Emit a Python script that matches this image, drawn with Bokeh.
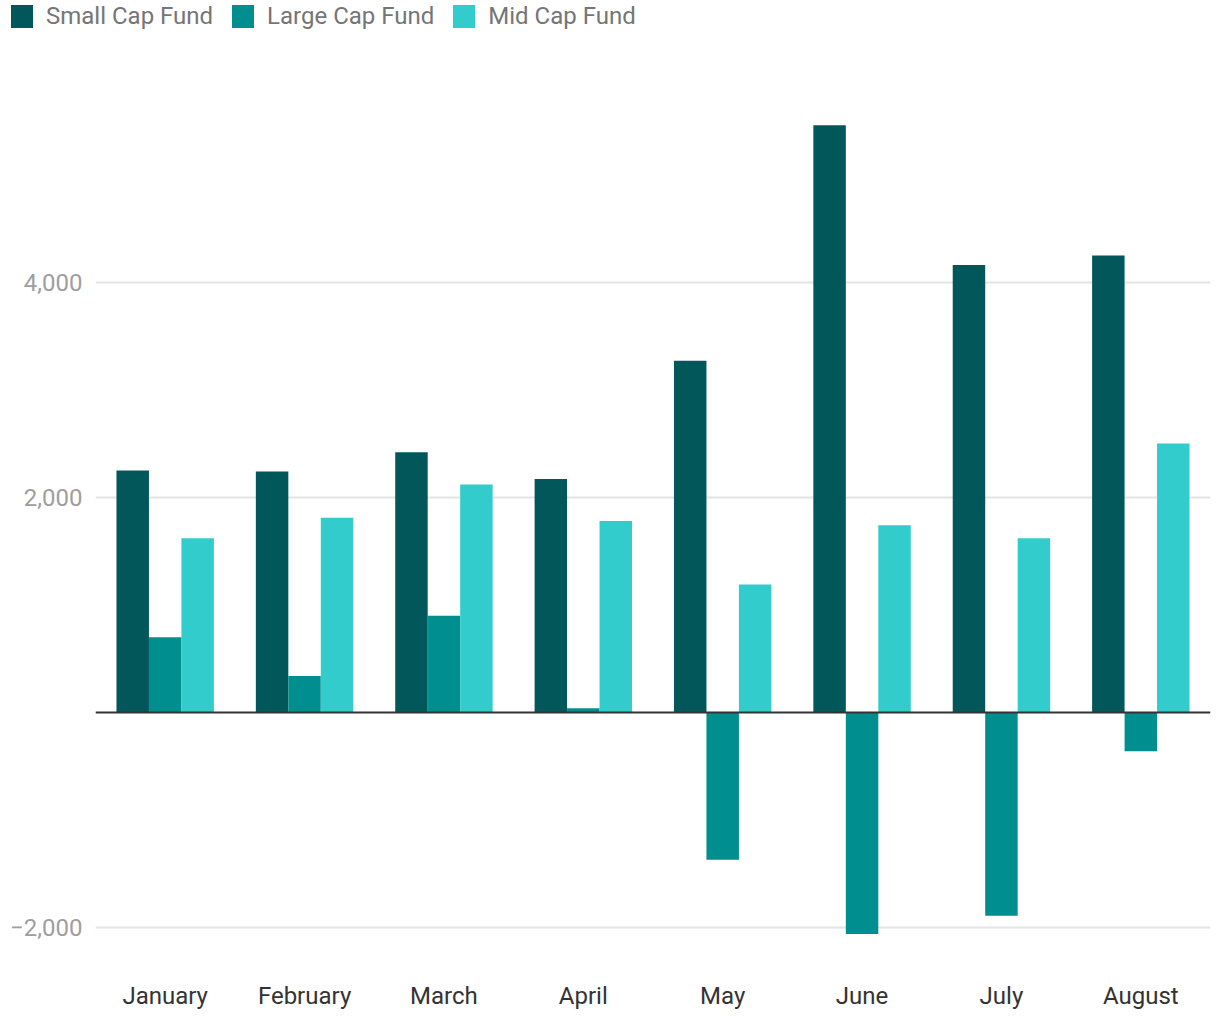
from bokeh.plotting import figure
from bokeh.layouts import column
from bokeh.models import ColumnDataSource, FactorRange, Range1d, FixedTicker, Span, Div
from bokeh.transform import dodge
from bokeh.embed import file_html
from bokeh.resources import INLINE

months = ["January", "February", "March", "April", "May", "June", "July", "August"]
small_cap = [2250, 2240, 2420, 2170, 3270, 5460, 4160, 4250]
large_cap = [700, 340, 900, 40, -1370, -2060, -1890, -360]
mid_cap = [1620, 1810, 2120, 1780, 1190, 1740, 1620, 2500]
series_names = ["Small Cap Fund", "Large Cap Fund", "Mid Cap Fund"]
colors = ["#02575a", "#008e8e", "#33cccc"]
y_ticks = [-2000, 2000, 4000]
y_tick_labels = {-2000: "\u22122,000", 2000: "2,000", 4000: "4,000"}

source = ColumnDataSource(dict(month=months, small=small_cap, large=large_cap, mid=mid_cap))

# ---- main chart ----
p = figure(width=1212, height=960, x_range=FactorRange(*months), y_range=Range1d(-2390, 6062),
           output_backend="svg", toolbar_location=None,
           min_border_left=95, min_border_right=2, min_border_top=8, min_border_bottom=42)

bw = 0.233
for col, off, c in zip(["small", "large", "mid"], [-bw, 0, bw], colors):
    p.vbar(x=dodge("month", off, range=p.x_range), top=col, width=bw, source=source,
           fill_color=c, line_color=None)

p.add_layout(Span(location=0, dimension="width", line_color="#333333", line_width=2))

p.outline_line_color = None
p.xgrid.grid_line_color = None
p.ygrid.grid_line_color = "#e4e4e4"
p.ygrid.grid_line_width = 2
p.yaxis.ticker = FixedTicker(ticks=y_ticks)
p.yaxis.major_label_overrides = y_tick_labels
for ax in (p.xaxis, p.yaxis):
    ax.axis_line_color = None
    ax.major_tick_line_color = None
    ax.minor_tick_line_color = None
    ax.major_tick_in = 0
    ax.major_tick_out = 0
    ax.major_label_text_font = "Roboto"
    ax.major_label_text_font_size = "24px"
p.yaxis.major_label_text_color = "#9e9e9e"
p.yaxis.major_label_standoff = 13
p.xaxis.major_label_text_color = "#333333"
p.xaxis.major_label_standoff = 12

# ---- legend strip (HTML) ----
items_html = "".join(
    f'<span style="display:inline-block;width:22px;height:23px;background:{c};margin-right:13px;"></span>'
    f'<span style="margin-right:19px;line-height:23px;">{n}</span>'
    for n, c in zip(series_names, colors)
)
legend_html = (
    '<div style="box-sizing:border-box;width:1212px;height:52px;padding:5px 0 0 11px;'
    'display:flex;align-items:flex-start;flex-wrap:nowrap;'
    'font-family:Roboto;font-size:24px;color:#757575;white-space:nowrap;">'
    f'<div style="display:flex;align-items:center;height:23px;">{items_html}</div></div>'
)
legend_div = Div(text=legend_html, width=1212, height=52, margin=0)

layout = column(legend_div, p, spacing=0)
open("out.html", "w").write(file_html(layout, INLINE))
